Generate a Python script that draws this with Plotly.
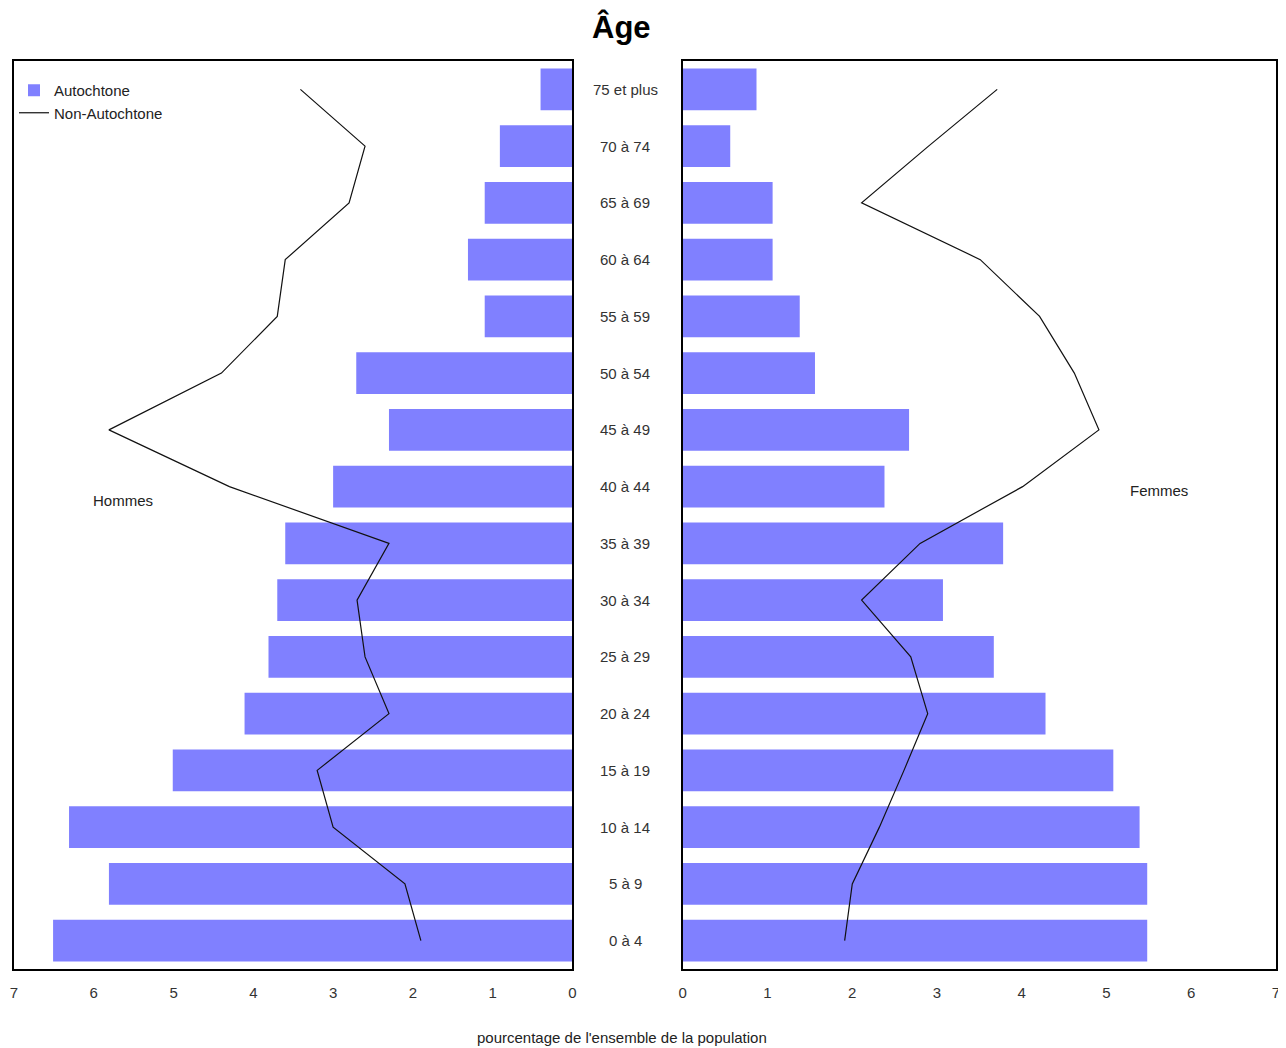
import plotly.graph_objects as go

# page has an 8px body margin, so the figure is sized/offset to compensate
OFF = 8
W, H = 1286 - OFF, 1048 - OFF

ages = ["0 à 4", "5 à 9", "10 à 14", "15 à 19", "20 à 24", "25 à 29", "30 à 34",
        "35 à 39", "40 à 44", "45 à 49", "50 à 54", "55 à 59", "60 à 64",
        "65 à 69", "70 à 74", "75 et plus"]

hommes_autochtone = [6.51, 5.81, 6.31, 5.01, 4.11, 3.81, 3.70, 3.60, 3.00, 2.30,
                     2.71, 1.10, 1.31, 1.10, 0.91, 0.40]
hommes_non_autochtone = [1.90, 2.10, 3.00, 3.20, 2.30, 2.60, 2.70, 2.30, 4.30, 5.81,
                         4.40, 3.70, 3.60, 2.80, 2.60, 3.41]
femmes_autochtone = [5.48, 5.48, 5.39, 5.08, 4.28, 3.67, 3.07, 3.78, 2.38, 2.67,
                     1.56, 1.38, 1.06, 1.06, 0.56, 0.87]
femmes_non_autochtone = [1.91, 2.00, 2.32, 2.61, 2.89, 2.69, 2.11, 2.80, 4.01, 4.91,
                         4.62, 4.21, 3.51, 2.11, 2.90, 3.71]

x_ticks = [0, 1, 2, 3, 4, 5, 6, 7]

BAR = "#8080FF"
FONT = "Liberation Sans, Arial, sans-serif"
TXT = "#222222"


def px(x):
    return (x - OFF) / W


def py(y):
    return 1 - (y - OFF) / H


fig = go.Figure()

fig.add_trace(go.Bar(y=ages, x=hommes_autochtone, orientation="h", marker_color=BAR,
                     marker_line_width=0, name="Autochtone", xaxis="x", yaxis="y"))
fig.add_trace(go.Scatter(y=ages, x=hommes_non_autochtone, mode="lines",
                         line=dict(color="#111111", width=1.2), name="Non-Autochtone",
                         xaxis="x", yaxis="y"))
fig.add_trace(go.Bar(y=ages, x=femmes_autochtone, orientation="h", marker_color=BAR,
                     marker_line_width=0, showlegend=False, xaxis="x2", yaxis="y2"))
fig.add_trace(go.Scatter(y=ages, x=femmes_non_autochtone, mode="lines",
                         line=dict(color="#111111", width=1.2), showlegend=False,
                         xaxis="x2", yaxis="y2"))

ydom = [py(969), py(61)]
axis_common = dict(showgrid=False, zeroline=False, showline=True, mirror=True,
                   linecolor="black", linewidth=2, ticks="outside", ticklen=9,
                   tickcolor="rgba(0,0,0,0)", tickvals=x_ticks,
                   tickfont=dict(family=FONT, size=15, color="#333333"))
yaxis_common = dict(type="category", categoryorder="array", categoryarray=ages,
                    range=[-0.5, 15.5], showticklabels=False, showgrid=False,
                    zeroline=False, showline=True, mirror=True, linecolor="black",
                    linewidth=2)

fig.update_layout(
    width=W, height=H,
    margin=dict(l=0, r=0, t=0, b=0),
    paper_bgcolor="white", plot_bgcolor="white",
    bargap=0.26,
    font=dict(family=FONT, size=15, color=TXT),
    xaxis=dict(domain=[px(10), px(572)], range=[7, 0], anchor="y", **axis_common),
    xaxis2=dict(domain=[px(683), px(1280)], range=[0, 7], anchor="y2", **axis_common),
    yaxis=dict(domain=ydom, anchor="x", **yaxis_common),
    yaxis2=dict(domain=ydom, anchor="x2", **yaxis_common),
    legend=dict(x=px(10), y=py(74), xanchor="left", yanchor="top",
                bgcolor="rgba(0,0,0,0)", itemwidth=30, tracegroupgap=0,
                font=dict(family=FONT, size=15, color=TXT)),
    showlegend=True,
)

annotations = [
    dict(text="<b>Âge</b>", x=px(621), y=py(27), xref="paper", yref="paper",
         xanchor="center", yanchor="middle", showarrow=False,
         font=dict(family=FONT, size=31, color="black")),
    dict(text="Hommes", x=px(120), y=py(500), xref="paper", yref="paper",
         xanchor="center", yanchor="middle", showarrow=False,
         font=dict(family=FONT, size=15, color=TXT)),
    dict(text="Femmes", x=px(1162), y=py(490), xref="paper", yref="paper",
         xanchor="center", yanchor="middle", showarrow=False,
         font=dict(family=FONT, size=15, color=TXT)),
    dict(text="pourcentage de l'ensemble de la population", x=px(622), y=py(1037),
         xref="paper", yref="paper", xanchor="center", yanchor="middle",
         showarrow=False, font=dict(family=FONT, size=15, color=TXT)),
]
for a in ages:
    annotations.append(dict(text=a, x=px(625), y=a, xref="paper", yref="y",
                            xanchor="center", yanchor="middle", showarrow=False,
                            font=dict(family=FONT, size=15, color="#333333")))
fig.update_layout(annotations=annotations)

fig.write_html("out.html")
